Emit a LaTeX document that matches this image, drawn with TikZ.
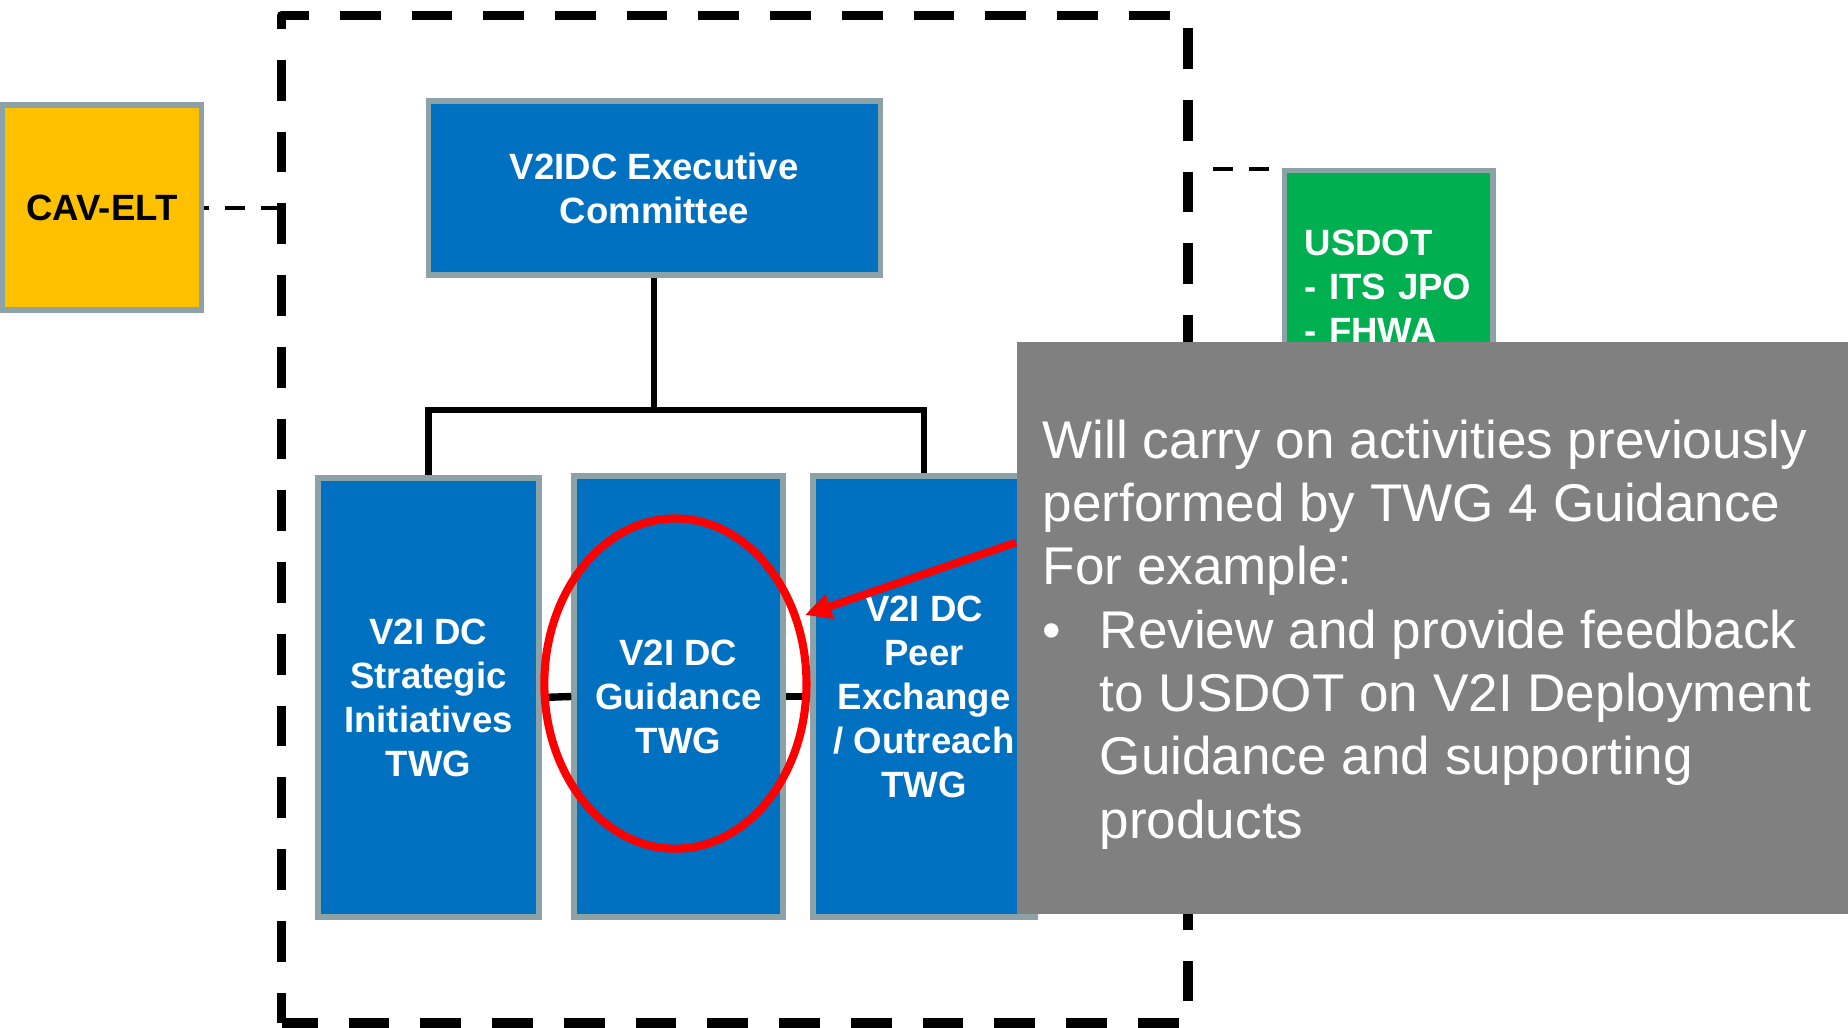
\documentclass[tikz,border=0pt]{standalone}
\usepackage{fontspec}
\setmainfont{Liberation Sans}
\usetikzlibrary{shapes.geometric,arrows.meta,calc}
\definecolor{unitblue}{RGB}{0,112,192}
\definecolor{unitgreen}{RGB}{0,176,80}
\definecolor{unitgold}{RGB}{255,192,0}
\definecolor{unitrim}{RGB}{140,162,166}
\definecolor{notegray}{RGB}{128,128,128}
\begin{document}
\begin{tikzpicture}[x=0.01cm,y=-0.01cm,
    unit/.style={draw=unitrim, line width=1.5pt, fill=unitblue, text=white, inner sep=0pt,
      align=center, font=\bfseries\fontsize{10.4pt}{12.5pt}\selectfont},
    fence/.style={line width=2.7pt, line join=round, dash pattern=on 11.58pt off 8.82pt, dash phase=2.93pt},
    dashlink/.style={line width=1.4pt, dash pattern=on 5.7pt off 4.55pt},
    treeline/.style={line width=1.8pt},
    peerline/.style={line width=2.1pt},
    ring/.style={draw=red, line width=2.3pt, ellipse, inner sep=0pt},
    pointer/.style={draw=red, line width=2.2pt, -{Triangle[length=7.5pt,width=7pt]}}]
  \useasboundingbox (0,0) rectangle (1848,1028);
  \draw[fence] (281.5,1023) -- (281.5,15.5) -- (1188,15.5) -- (1188,1023) -- cycle;
  \node[unit, fill=unitgold, text=black, minimum width=1.995cm, minimum height=2.05cm] (cav) at (102,207.5) {CAV-ELT};
  \node[unit, minimum width=4.515cm, minimum height=1.74cm] (exec) at (654.3,188) {V2IDC Executive\\Committee};
  \node[unit, minimum width=2.21cm, minimum height=4.39cm] (strat) at (428.5,697.5) {V2I DC\\Strategic\\Initiatives\\TWG};
  \node[unit, minimum width=2.09cm, minimum height=4.41cm] (guide) at (678.5,696.5) {V2I DC\\Guidance\\TWG};
  \node[unit, minimum width=2.22cm, minimum height=4.41cm] (peer) at (924,696.5) {V2I DC\\Peer\\Exchange\\/ Outreach\\TWG};
  \node[unit, fill=unitgreen, align=left, text width=1.68cm, inner xsep=0.2cm,
    minimum width=2.08cm, minimum height=2.33cm] (usdot) at (1388.8,287) {USDOT\\- ITS JPO\\- FHWA};
  \coordinate (cavtap) at (281.5,208);
  \coordinate (usdottap) at (1213,169);
  \coordinate (fork) at (654.3,410);
  \draw[dashlink] (cavtap) -- (cavtap -| cav.east);
  \draw[dashlink] (usdottap) -- (usdottap -| usdot.west);
  \draw[treeline] (exec.south) -- (fork);
  \draw[treeline] (strat.north) |- (fork) -| (peer.north);
  \draw[peerline] (strat.east) -- (guide.west);
  \draw[peerline] (guide.east) -- (peer.west);
  \node[ring, minimum width=2.62cm, minimum height=3.30cm] (focus) at (675.4,683.6) {};
  \node[fill=notegray, inner sep=0pt, minimum width=8.31cm, minimum height=5.72cm] (note) at (1432.5,628) {};
  \node[anchor=north west, inner sep=0pt, text=white, align=left,
    font=\fontsize{15.1pt}{18pt}\selectfont] (notetext) at ($(note.north west)+(26,78)$)
    {Will carry on activities previously\\
     performed by TWG 4 Guidance\\
     For example:\\
     \makebox[16.2pt][l]{•}Review and provide feedback\\
     \hspace*{16.2pt}to USDOT on V2I Deployment\\
     \hspace*{16.2pt}Guidance and supporting\\
     \hspace*{16.2pt}products};
  \coordinate (tip) at (805,615);
  \draw[pointer] ($(note.north west)!0.351!(note.south west)$) -- (tip);
\end{tikzpicture}
\end{document}
